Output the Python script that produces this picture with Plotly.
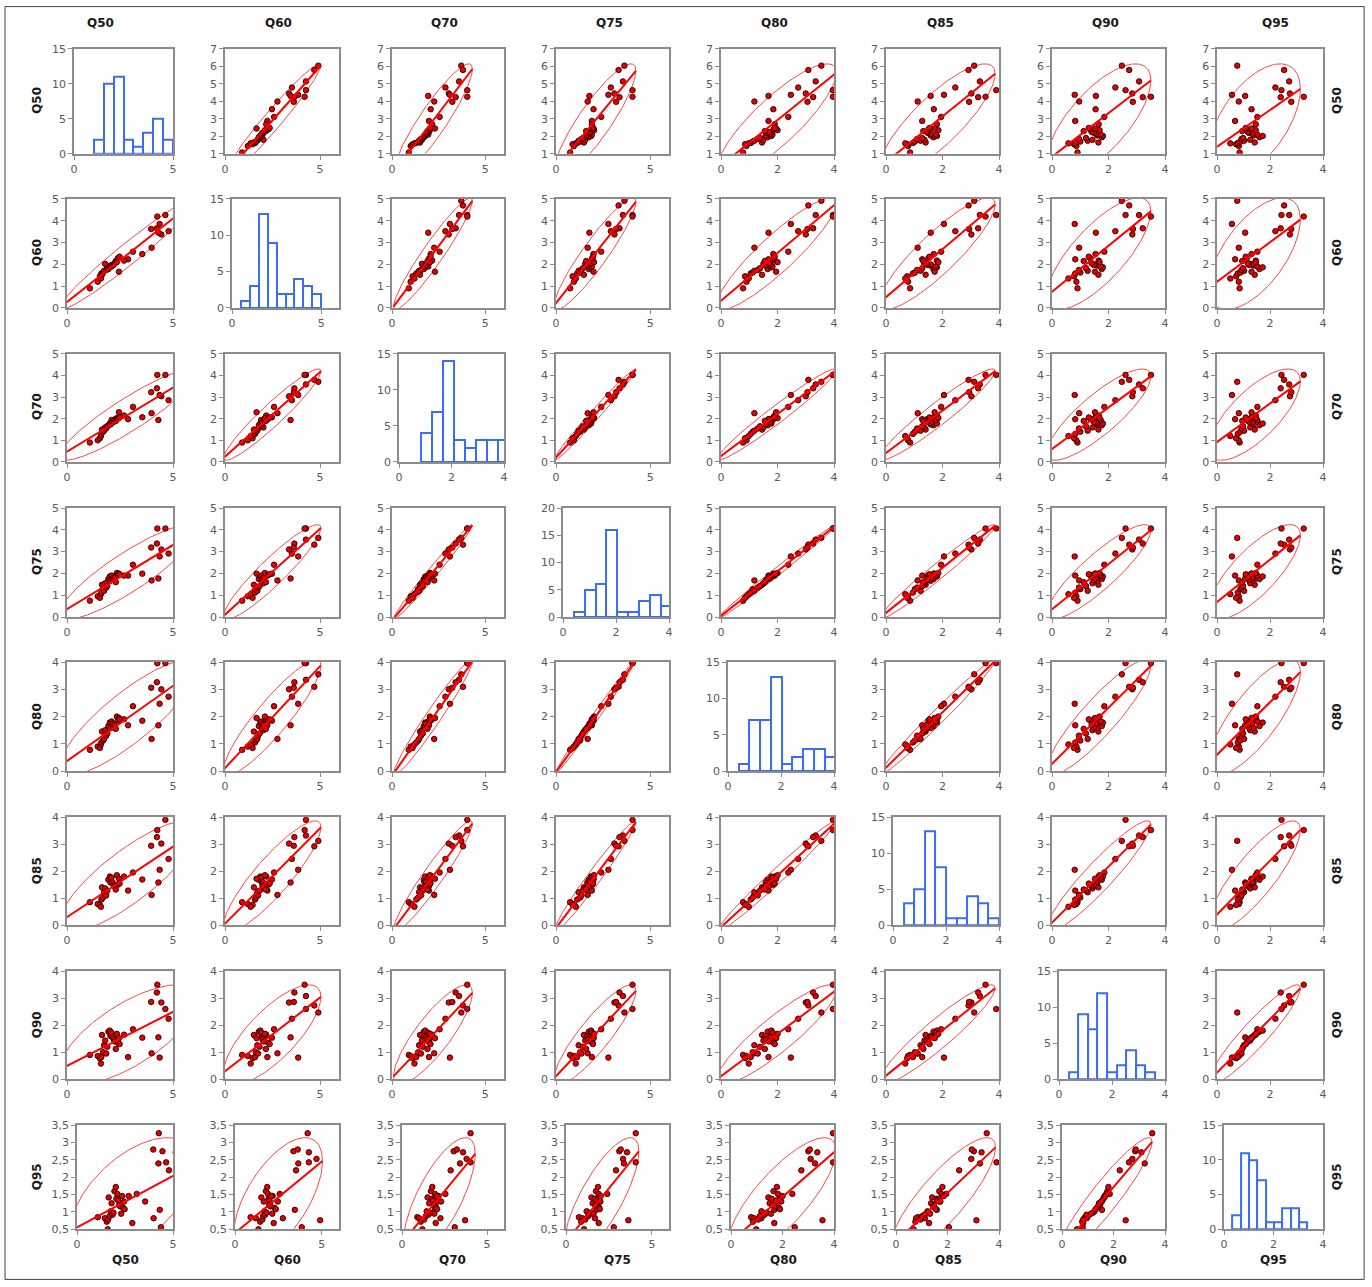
import numpy as np
import plotly.graph_objects as go

W, H = 1372, 1287
# the photographed page comes out slightly shrunk around its centre; target
# pixel positions are mapped back through that measured transform
SX, AX = 0.9941, 4.0
SY, AY = 0.9895, 5.2


def px(xt):
    return ((xt - AX) / SX) / W


def py(yt):
    return 1 - ((yt - AY) / SY) / H


variables = ["Q50", "Q60", "Q70", "Q75", "Q80", "Q85", "Q90", "Q95"]

# 39 stations: first 16 are the "high" stations, then the 23 of the main cluster
Q50 = [6.04, 5.79, 5.14, 4.79, 4.64, 4.45, 4.37, 4.31, 4.26, 4.24, 3.97, 3.99, 3.55, 3.11, 2.88, 2.69,
       1.08, 1.45, 1.55, 1.6, 1.62, 1.65, 1.7, 1.75, 1.8, 1.85, 1.9, 1.95, 2.02, 2.05, 2.1, 2.15,
       2.2, 2.25, 2.3, 2.35, 2.4, 2.45, 2.48]
Q60 = [4.91, 4.70, 4.26, 3.52, 4.26, 3.37, 3.85, 3.45, 4.19, 3.65, 3.62, 2.76, 2.47, 2.58, 2.23, 2.17,
       0.9, 1.2, 1.45, 1.35, 1.58, 1.52, 1.62, 1.7, 2.02, 1.74, 1.82, 1.78, 1.86, 1.94, 1.9, 1.99,
       1.97, 2.05, 2.15, 2.1, 2.28, 1.66, 2.35]
Q70 = [3.71, 3.80, 3.59, 2.86, 4.03, 3.04, 3.10, 1.94, 4.03, 3.41, 3.23, 2.26, 2.07, 2.55, 1.98, 2.15,
       0.9, 1.0, 1.1, 1.2, 1.3, 1.5, 1.4, 1.45, 1.6, 1.55, 1.65, 1.7, 1.78, 1.74, 1.94, 1.82,
       1.86, 1.97, 1.9, 2.03, 2.0, 2.3, 2.06]
Q75 = [3.63, 3.32, 3.55, 2.91, 4.06, 3.10, 2.78, 1.77, 4.06, 3.37, 3.19, 1.68, 1.99, 2.40, 1.90, 1.90,
       0.75, 0.95, 0.88, 1.05, 1.12, 1.48, 1.28, 1.2, 1.55, 1.35, 1.42, 1.74, 1.86, 1.66, 1.9, 1.78,
       1.7, 1.82, 1.6, 2.02, 1.93, 1.99, 1.96]
Q80 = [3.55, 3.09, 3.35, 2.73, 3.96, 3.00, 2.47, 1.68, 3.96, 3.26, 3.06, 1.18, 1.85, 2.38, 1.68, 1.90,
       0.78, 0.9, 0.85, 0.98, 1.05, 1.45, 1.12, 1.18, 1.5, 1.3, 1.38, 1.65, 1.78, 1.58, 1.82, 1.74,
       1.6, 1.7, 1.55, 2.0, 1.86, 1.95, 1.9]
Q85 = [3.12, 2.92, 3.32, 2.45, 3.90, 3.02, 2.05, 1.58, 3.52, 3.26, 2.94, 1.12, 1.69, 1.95, 1.28, 1.80,
       0.85, 0.78, 0.75, 0.68, 0.95, 1.4, 1.02, 1.22, 1.36, 1.1, 1.28, 1.68, 1.8, 1.58, 1.76, 1.59,
       1.47, 1.44, 1.32, 1.85, 1.5, 1.72, 1.54]
Q90 = [2.47, 2.73, 3.08, 2.24, 2.60, 2.84, 0.80, 1.55, 3.50, 3.21, 2.86, 0.96, 1.54, 1.85, 0.82, 1.65,
       0.9, 0.86, 0.78, 0.58, 0.82, 1.64, 1.0, 1.26, 1.43, 0.95, 1.2, 1.76, 1.8, 1.6, 1.72, 1.56,
       1.48, 1.4, 1.12, 1.68, 1.35, 1.52, 1.3]
Q95 = [0.76, 2.53, 2.72, 2.20, 2.43, 2.75, 0.56, 1.06, 3.27, 2.40, 2.80, 0.82, 1.30, 1.52, 0.68, 1.46,
       0.85, 0.82, 0.72, 0.5, 0.78, 1.42, 0.88, 1.02, 1.25, 0.92, 0.98, 1.6, 1.72, 1.38, 1.52, 1.33,
       1.2, 1.16, 0.95, 1.46, 1.12, 1.3, 1.08]

data = {"Q50": Q50, "Q60": Q60, "Q70": Q70, "Q75": Q75,
        "Q80": Q80, "Q85": Q85, "Q90": Q90, "Q95": Q95}

# histogram bin widths
hist_bin_width = {"Q50": 0.5, "Q60": 0.5, "Q70": 0.42, "Q75": 0.41,
                  "Q80": 0.405, "Q85": 0.4, "Q90": 0.3625, "Q95": 0.336}

# axis scales
x_range = {"Q50": (0, 5), "Q60": (0, 6), "Q70": (0, 6), "Q75": (0, 6),
           "Q80": (0, 4), "Q85": (0, 4), "Q90": (0, 4), "Q95": (0, 4)}
x_dtick = {"Q50": 5, "Q60": 5, "Q70": 5, "Q75": 5, "Q80": 2, "Q85": 2, "Q90": 2, "Q95": 2}
y_range = {"Q50": (1, 7), "Q60": (0, 5), "Q70": (0, 5), "Q75": (0, 5),
           "Q80": (0, 4), "Q85": (0, 4), "Q90": (0, 4), "Q95": (0.5, 3.5)}
y_dtick = {"Q50": 1, "Q60": 1, "Q70": 1, "Q75": 1, "Q80": 1, "Q85": 1, "Q90": 1, "Q95": 0.5}
hist_x_range = {"Q50": (0, 5), "Q60": (0, 6), "Q70": (0, 4), "Q75": (0, 4),
                "Q80": (0, 4), "Q85": (0, 4), "Q90": (0, 4), "Q95": (0, 4)}
hist_x_dtick = {"Q50": 5, "Q60": 5, "Q70": 2, "Q75": 2, "Q80": 2, "Q85": 2, "Q90": 2, "Q95": 2}
hist_y_max = {"Q50": 15, "Q60": 15, "Q70": 15, "Q75": 20, "Q80": 15, "Q85": 15, "Q90": 15, "Q95": 15}

# layout geometry (target pixels)
col_left = [67, 225, 392, 556, 721, 886, 1052, 1217]
col_right = [173, 339, 504, 669, 834, 999, 1165, 1323]
row_top = [48, 198, 353, 507, 661, 816, 970, 1124]
row_bottom = [153, 307, 461, 616, 770, 924, 1078, 1228]
top_title_x = [100, 278, 444, 609, 774, 940, 1105, 1275]
bottom_title_x = [125, 287, 452, 617, 783, 948, 1113, 1273]
row_label_y = [100, 252, 406, 561, 716, 870, 1024, 1176]

CHI2 = 5.991  # 95% confidence ellipse

tick_font = dict(family="DejaVu Sans", size=11, color="#595959")
axis_common = dict(showline=True, linecolor="#8c8c8c", linewidth=1.5, mirror=True,
                   ticks="outside", ticklen=4, tickwidth=1, tickcolor="#8c8c8c",
                   showgrid=False, zeroline=False, tickfont=tick_font, fixedrange=True)

fig = go.Figure()
layout = {}

for r, yv in enumerate(variables):
    for c, xv in enumerate(variables):
        k = r * 8 + c + 1
        xa = "x" if k == 1 else f"x{k}"
        ya = "y" if k == 1 else f"y{k}"
        offset = 7 if r == c else (10 if r == 7 else 0)
        xd = [px(col_left[c] + offset), px(col_right[c])]
        yd = [py(row_bottom[r]), py(row_top[r])]
        if r == c:
            fig.add_trace(go.Histogram(
                x=data[xv], xaxis=xa, yaxis=ya,
                xbins=dict(start=0, end=10, size=hist_bin_width[xv]), autobinx=False,
                marker=dict(color="white", line=dict(color="#3a6cf4", width=2)),
                showlegend=False, hoverinfo="skip"))
            xr, xdt = hist_x_range[xv], hist_x_dtick[xv]
            yr, ydt = (0, hist_y_max[yv]), 5
        else:
            x = np.asarray(data[xv], float)
            y = np.asarray(data[yv], float)
            mx, my = x.mean(), y.mean()
            cov = np.cov(x, y)
            L = np.linalg.cholesky(cov)
            t = np.linspace(0, 2 * np.pi, 241)
            pts = L @ (np.vstack([np.cos(t), np.sin(t)]) * np.sqrt(CHI2))
            fig.add_trace(go.Scatter(x=mx + pts[0], y=my + pts[1], xaxis=xa, yaxis=ya,
                                     mode="lines", line=dict(color="#ff3030", width=0.9),
                                     showlegend=False, hoverinfo="skip"))
            fig.add_trace(go.Scatter(x=x, y=y, xaxis=xa, yaxis=ya, mode="markers",
                                     marker=dict(size=5.5, color="#e80000",
                                                 line=dict(color="#200000", width=0.9)),
                                     showlegend=False, hoverinfo="skip"))
            b = cov[0, 1] / cov[0, 0]
            a = my - b * mx
            half = np.sqrt(CHI2 * cov[0, 0])
            lx = np.array([mx - half, mx + half])
            fig.add_trace(go.Scatter(x=lx, y=a + b * lx, xaxis=xa, yaxis=ya, mode="lines",
                                     line=dict(color="#ff0000", width=2),
                                     showlegend=False, hoverinfo="skip"))
            xr, xdt = x_range[xv], x_dtick[xv]
            yr, ydt = y_range[yv], y_dtick[yv]
        layout["xaxis" if k == 1 else f"xaxis{k}"] = dict(
            axis_common, domain=xd, anchor=ya, range=list(xr), tick0=xr[0], dtick=xdt)
        layout["yaxis" if k == 1 else f"yaxis{k}"] = dict(
            axis_common, domain=yd, anchor=xa, range=list(yr), tick0=yr[0], dtick=ydt)

title_font = dict(family="DejaVu Sans", size=12, color="#1a1a1a")
annotations = []
for i, v in enumerate(variables):
    lab = f"<b>{v}</b>"
    annotations.append(dict(text=lab, x=px(top_title_x[i]), y=py(22), xref="paper", yref="paper",
                            showarrow=False, xanchor="center", yanchor="middle", font=title_font))
    annotations.append(dict(text=lab, x=px(bottom_title_x[i]), y=py(1259), xref="paper", yref="paper",
                            showarrow=False, xanchor="center", yanchor="middle", font=title_font))
    annotations.append(dict(text=lab, x=px(37), y=py(row_label_y[i]), xref="paper", yref="paper",
                            showarrow=False, xanchor="center", yanchor="middle", textangle=-90,
                            font=title_font))
    annotations.append(dict(text=lab, x=px(1337), y=py(row_label_y[i]), xref="paper", yref="paper",
                            showarrow=False, xanchor="center", yanchor="middle", textangle=-90,
                            font=title_font))

frame_x0, frame_x1 = max(px(5), 0.6 / W), min(px(1364), 1 - 0.6 / W)
frame_y1, frame_y0 = min(py(4.5), 1 - 0.6 / H), max(py(1284), 0.6 / H)

fig.update_layout(
    width=W, height=H, margin=dict(l=0, r=0, t=0, b=0),
    paper_bgcolor="white", plot_bgcolor="white",
    bargap=0, separators=", ", showlegend=False,
    annotations=annotations,
    shapes=[dict(type="rect", xref="paper", yref="paper",
                 x0=frame_x0, x1=frame_x1, y0=frame_y0, y1=frame_y1,
                 line=dict(color="#404040", width=1), fillcolor="rgba(0,0,0,0)", layer="below")],
    **layout)

fig.write_html("out.html", config={"displayModeBar": False},
               post_script=("document.documentElement.style.overflow='hidden';"
                            "document.body.style.margin='0';"
                            "document.body.style.overflow='hidden';"))
